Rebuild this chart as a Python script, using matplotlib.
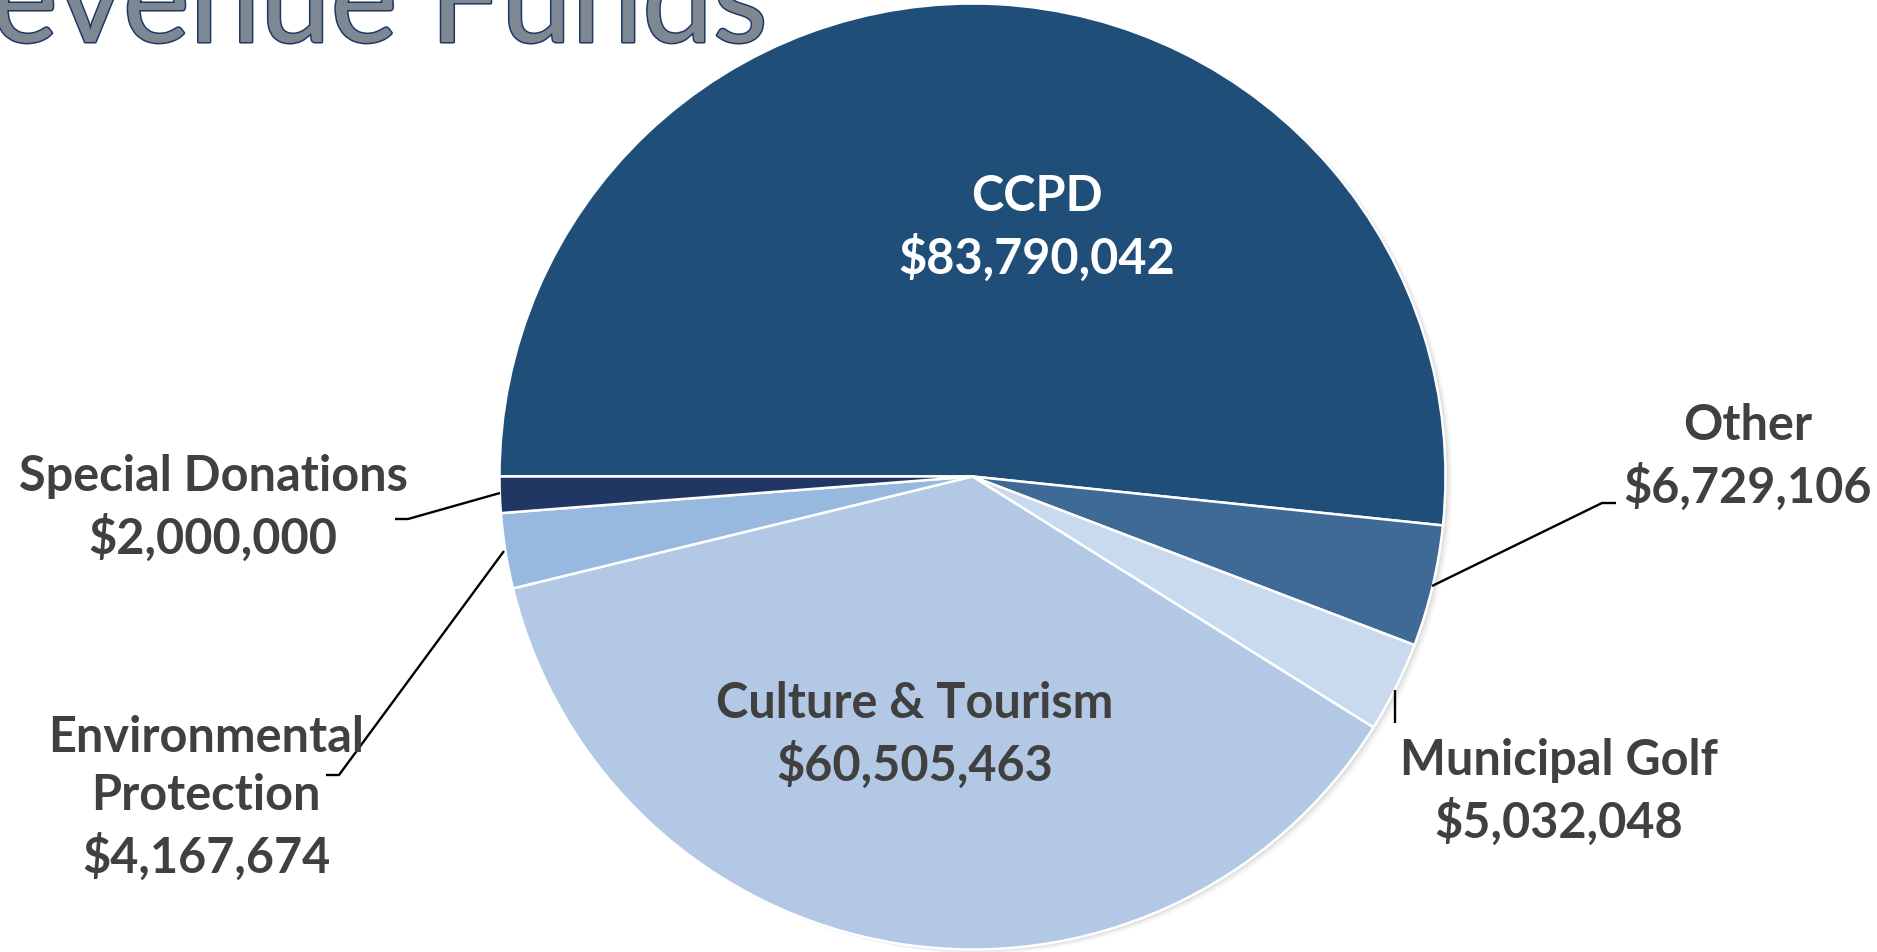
import matplotlib
matplotlib.use("Agg")
import matplotlib.pyplot as plt
import matplotlib.patheffects as pe
from matplotlib.patches import Circle

# ---- data ----
categories = ["CCPD", "Other", "Municipal Golf", "Culture & Tourism",
              "Environmental\nProtection", "Special Donations"]
values = [83790042, 6729106, 5032048, 60505463, 4167674, 2000000]
colors = ["#1F4E79", "#3E6A95", "#C9D9EE", "#B2C8E5", "#97B9DF", "#213763"]
title_text = "Revenue Funds"

W, H = 1877, 953
fig = plt.figure(figsize=(W / 100, H / 100), dpi=100)
ax = fig.add_axes([0, 0, 1, 1])

def py(y):  # pixel row -> data y
    return H - y

cx, cy, R = 972.5, py(477.5), 473

# soft shadow behind pie
for off, a in [(7, 0.05), (5, 0.08), (3, 0.12)]:
    ax.add_patch(Circle((cx + off, cy - off * 0.6), R, facecolor="#7f7f7f",
                        edgecolor="none", alpha=a, zorder=0))

wedges, _ = ax.pie(values, colors=colors, startangle=180, counterclock=False,
                   center=(cx, cy), radius=R,
                   wedgeprops=dict(edgecolor="white", linewidth=1.8),
                   frame=True)
for w in wedges:
    w.set_zorder(2)

ax.set_xlim(0, W)
ax.set_ylim(0, H)
ax.set_aspect("equal", adjustable="box")
ax.axis("off")

def money(v):
    return "${:,}".format(v)

font = ["Lato", "DejaVu Sans"]
fs = 35
dark = "#404040"

# label positions (pixel coords of text centre)
label_pos = {
    "CCPD": (1037, 228, "white"),
    "Other": (1748, 457, dark),
    "Municipal Golf": (1559, 792, dark),
    "Culture & Tourism": (915, 735, dark),
    "Environmental\nProtection": (206, 798, dark),
    "Special Donations": (213, 508, dark),
}
for cat, val in zip(categories, values):
    x, y, c = label_pos[cat]
    ax.text(x, py(y), cat + "\n" + money(val), ha="center", va="center",
            fontsize=fs, fontweight="bold", color=c, family=font,
            linespacing=1.35, zorder=5)

# leader lines (pixel coords)
leaders = [
    [(500, 494), (408, 520), (395, 520)],
    [(504, 552), (339, 776), (326, 776)],
    [(1432, 587), (1602, 504), (1616, 504)],
    [(1395, 691), (1395, 724)],
]
for pts in leaders:
    xs = [p[0] for p in pts]
    ys = [py(p[1]) for p in pts]
    ax.plot(xs, ys, color="black", linewidth=1.7, zorder=4,
            solid_capstyle="butt")

# clipped title
ax.text(767, py(43), title_text, ha="right", va="baseline", fontsize=91,
        color="#7E8893", family=font, zorder=6, clip_on=False,
        path_effects=[pe.Stroke(linewidth=2.2, foreground="#1F3864"), pe.Normal()])

fig.savefig("out.png", dpi=100)
